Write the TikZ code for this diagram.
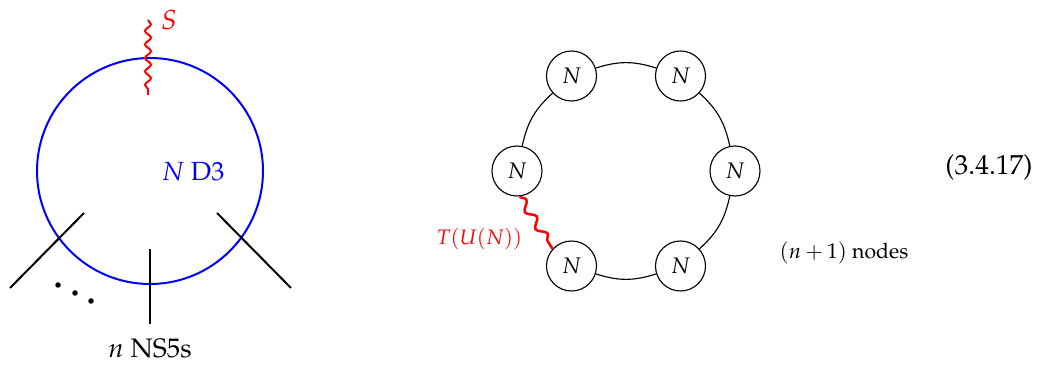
\documentclass[tikz,border=0pt]{standalone}
\usepackage[T1]{fontenc}
\usepackage{mathpazo}
\usetikzlibrary{decorations.pathmorphing,positioning}
\definecolor{dthree}{HTML}{0000FF}
\definecolor{twist}{HTML}{FF0000}
\newcommand{\lblsize}[1]{\fontsize{#1}{1.2\dimexpr#1pt\relax}\selectfont}
\tikzset{
  ringnode/.style={circle,draw,line width=0.45pt,minimum size=20pt,inner sep=0pt,font=\lblsize{9}},
  ringedge/.style={line width=0.45pt},
  wavy/.style={twist,line width=0.8pt,decorate,decoration={snake,amplitude=1.2pt,segment length=5.4pt}},
  fivebrane/.style={line width=0.8pt}
}
\begin{document}
\begin{tikzpicture}[x=0.4pt,y=-0.4pt]
  \useasboundingbox (0,0) rectangle (1040,365);
  % left: D3 loop cut by NS5s
  \coordinate (dcent) at (150,171);
  \draw[dthree,line width=0.8pt] (dcent) circle[radius=45.2pt];
  \node[dthree,font=\lblsize{10.5}] (dlab) at (193,172) {$N$ D3};
  \coordinate (stop) at (148,20);
  \coordinate (sbot) at (148,95);
  \draw[wavy] (stop) -- (sbot);
  \node[twist,font=\lblsize{11}] (slab) at (169,20) {$S$};
  \coordinate (ns1a) at (10,288);  \coordinate (ns1b) at (84,213);
  \coordinate (ns2a) at (150,249); \coordinate (ns2b) at (150,324);
  \coordinate (ns3a) at (217,213); \coordinate (ns3b) at (291,288);
  \draw[fivebrane] (ns1a) -- (ns1b);
  \draw[fivebrane] (ns2a) -- (ns2b);
  \draw[fivebrane] (ns3a) -- (ns3b);
  \foreach \p in {(58,285),(75,293),(91,301)}
    \fill \p circle[radius=1.1pt];
  \node[font=\lblsize{10.7},inner sep=0.5pt] (nslab) at (150,349) {$n$ NS5s};
  % right: necklace quiver
  \node[ringnode] (tl) at (571.5,76) {$N$};
  \node[ringnode] (tr) at (680.5,76) {$N$};
  \node[ringnode] (l) at (517,171) {$N$};
  \node[ringnode] (r) at (735,171) {$N$};
  \node[ringnode] (bl) at (571.5,266) {$N$};
  \node[ringnode] (br) at (680.5,266) {$N$};
  \draw[ringedge] (tl) to[bend left=18] (tr);
  \draw[ringedge] (tr) to[bend left=18] (r);
  \draw[ringedge] (r) to[bend left=18] (br);
  \draw[ringedge] (br) to[bend left=18] (bl);
  \draw[ringedge] (l) to[bend left=18] (tl);
  \draw[wavy,line width=1pt,decoration={amplitude=1.6pt,segment length=8pt}] (l.-84) -- (bl.138);
  \node[twist,font=\lblsize{8.4},anchor=east] (tlab) at (531,239) {$T(U(N))$};
  \node[font=\lblsize{8.5}] (count) at (844,253) {$(n+1)$ nodes};
  \node[font=\lblsize{11}] (eqno) at (989,167) {(3.4.17)};
\end{tikzpicture}
\end{document}
